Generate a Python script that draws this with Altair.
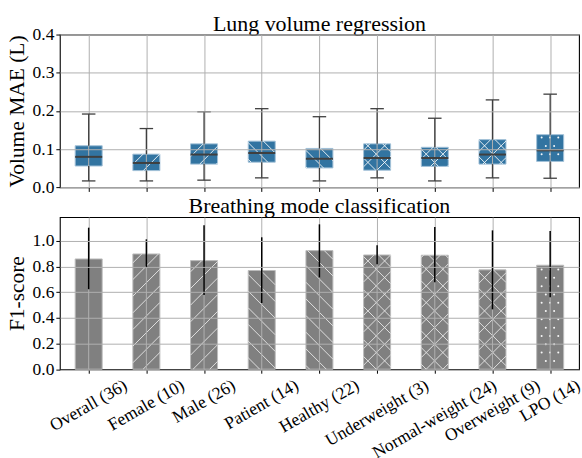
import math
import altair as alt
import numpy as np
import pandas as pd

# ---------------- data ----------------
categories = ["Overall (36)", "Female (10)", "Male (26)", "Patient (14)", "Healthy (22)",
              "Underweight (3)", "Normal-weight (24)", "Overweight (9)", "LPO (14)"]
hatches = ["", "/", "/", "\\", "\\", "x", "x", "x", "."]

mae_whisker_low = [0.017, 0.017, 0.019, 0.025, 0.017, 0.025, 0.017, 0.025, 0.024]
mae_q1 = [0.056, 0.044, 0.061, 0.066, 0.051, 0.045, 0.055, 0.061, 0.068]
mae_median = [0.080, 0.064, 0.086, 0.090, 0.075, 0.077, 0.077, 0.086, 0.097]
mae_q3 = [0.109, 0.087, 0.114, 0.121, 0.102, 0.114, 0.105, 0.125, 0.138]
mae_whisker_high = [0.192, 0.154, 0.198, 0.206, 0.185, 0.206, 0.181, 0.229, 0.244]

f1_mean = [0.860, 0.899, 0.847, 0.770, 0.925, 0.891, 0.889, 0.775, 0.811]
f1_low = [0.624, 0.793, 0.578, 0.516, 0.715, 0.819, 0.679, 0.467, 0.562]
f1_high = [1.104, 1.013, 1.122, 1.029, 1.130, 0.967, 1.109, 1.083, 1.078]

mae_ticks = [0.0, 0.1, 0.2, 0.3, 0.4]
f1_ticks = [0.0, 0.2, 0.4, 0.6, 0.8, 1.0]

titles = ["Lung volume regression", "Breathing mode classification"]
y_titles = ["Volume MAE (L)", "F1-score"]

# ---------------- layout / style ----------------
SERIF = "Liberation Serif"
W, H1, H2 = 520.6, 153.3, 152.6
N = len(categories)
HALF = 0.234
Y1MAX, Y2MAX = 0.4, 1.187
KX = W / N
K1 = H1 / Y1MAX
K2 = H2 / Y2MAX
SP = 16.7      # hatch line spacing (px)
DOT = 8.33     # dot hatch spacing (px)
BLUE = "#3274a1"
BOX_EDGE = "#a3c1d8"
BAR_GRAY = "#808080"
BAR_EDGE = "#bcbcbc"
GRID = "#b0b0b0"
WHISK = "#3f3f3f"
XFS = 17.5
ANG = 30
TFS = 22

df = pd.DataFrame({
    "pos": list(range(N)), "cat": categories, "hatch": hatches,
    "low": mae_whisker_low, "q1": mae_q1, "med": mae_median, "q3": mae_q3,
    "high": mae_whisker_high, "f1": f1_mean, "f1lo": f1_low, "f1hi": f1_high,
})
df["x0"] = df["pos"] - HALF
df["x1"] = df["pos"] + HALF
df["c0"] = df["pos"] - HALF / 2
df["c1"] = df["pos"] + HALF / 2


def hatch_parts(x0, x1, y0, y1, kind, ky):
    ua, ub = (x0 + 0.5) * KX, (x1 + 0.5) * KX
    va, vb = y0 * ky, y1 * ky
    tox = lambda u: u / KX - 0.5
    toy = lambda v: v / ky
    segs, dots = [], []
    if kind in ("/", "x"):
        for k in range(int(math.floor((va - ub) / SP)), int(math.ceil((vb - ua) / SP)) + 1):
            c = k * SP
            us, ue = max(ua, va - c), min(ub, vb - c)
            if ue - us > 0.8:
                segs.append({"xa": tox(us), "ya": toy(us + c), "xb": tox(ue), "yb": toy(ue + c)})
    if kind in ("\\", "x"):
        for k in range(int(math.floor((va + ua) / SP)), int(math.ceil((vb + ub) / SP)) + 1):
            c = k * SP
            us, ue = max(ua, c - vb), min(ub, c - va)
            if ue - us > 0.8:
                segs.append({"xa": tox(us), "ya": toy(c - us), "xb": tox(ue), "yb": toy(c - ue)})
    if kind == ".":
        r = 1.3
        for row in range(int(math.floor(va / DOT)), int(math.ceil(vb / DOT)) + 1):
            v = row * DOT
            if v < va + r or v > vb - r:
                continue
            off = DOT / 2 if row % 2 else 0.0
            for col in range(int(math.floor(ua / DOT)) - 1, int(math.ceil(ub / DOT)) + 1):
                u = col * DOT + off
                if ua + r <= u <= ub - r:
                    dots.append({"dx": tox(u), "dy": toy(v)})
    return segs, dots


def build_hatch(lo_col, hi_col, ky):
    segs, dots = [], []
    for _, r in df.iterrows():
        lo = r[lo_col] if lo_col else 0.0
        s, d = hatch_parts(r["x0"], r["x1"], lo, r[hi_col], r["hatch"], ky)
        segs += s
        dots += d
    return (pd.DataFrame(segs, columns=["xa", "ya", "xb", "yb"]),
            pd.DataFrame(dots, columns=["dx", "dy"]))


seg1, dot1 = build_hatch("q1", "q3", K1)
seg2, dot2 = build_hatch(None, "f1", K2)

# rotated tick labels: keep the top of every rotated label at the same height
TIMES_W = {" ": 250, "(": 333, ")": 333, "-": 333, "O": 722, "v": 500, "e": 444, "r": 333,
           "a": 444, "l": 278, "F": 556, "m": 778, "M": 889, "P": 556, "t": 278, "i": 278,
           "n": 500, "H": 722, "h": 500, "y": 500, "U": 722, "d": 500, "w": 722, "g": 500,
           "N": 722, "o": 500, "L": 611}
lab = df[["pos", "cat"]].copy()
sa, ca = math.sin(math.radians(ANG)), math.cos(math.radians(ANG))
lab_len = [sum(TIMES_W.get(ch, 500) for ch in s) / 1000 * XFS for s in categories]
lab["ly"] = [-(8.0 + (L * sa + XFS * 0.95 * ca) / 2) / K2 for L in lab_len]


def X(field):
    return alt.X(field, type="quantitative",
                 scale=alt.Scale(domain=[-0.5, N - 0.5], nice=False, zero=False),
                 axis=alt.Axis(values=list(range(N)), labels=False, title=None, grid=True,
                               ticks=True, tickSize=4, domain=False, zindex=0))


def Y1(field):
    return alt.Y(field, type="quantitative",
                 scale=alt.Scale(domain=[0, Y1MAX], nice=False, zero=False),
                 axis=alt.Axis(values=mae_ticks, format=".1f", title=y_titles[0], grid=True,
                               domain=False, tickSize=4, zindex=1))


def Y2(field):
    return alt.Y(field, type="quantitative",
                 scale=alt.Scale(domain=[0, Y2MAX], nice=False, zero=False),
                 axis=alt.Axis(values=f1_ticks, format=".1f", title=y_titles[1], grid=True,
                               domain=False, tickSize=4, zindex=1))


def panel_title(text):
    return alt.Chart(pd.DataFrame({"t": [text]})).mark_text(
        font=SERIF, fontSize=TFS, color="black", align="center", baseline="alphabetic"
    ).encode(x=alt.value(W / 2), y=alt.value(-3.7), text="t:N")


base = alt.Chart(df)

# ---------------- top: box plots ----------------
boxes = base.mark_bar(color=BLUE, stroke=BOX_EDGE, strokeWidth=1).encode(
    x=X("x0"), x2="x1", y=Y1("q1"), y2="q3")
hatch1 = alt.Chart(seg1).mark_rule(color="white", strokeWidth=1, opacity=0.85).encode(
    x=X("xa"), x2="xb", y=Y1("ya"), y2="yb")
dots1 = alt.Chart(dot1).mark_circle(color="white", size=4, opacity=0.95).encode(
    x=X("dx"), y=Y1("dy"))
vgrid1 = base.mark_rule(color=GRID, strokeWidth=1).encode(x=X("pos"), y=Y1("q1"), y2="q3")
wlow = base.mark_rule(color=WHISK, strokeWidth=1.3).encode(x=X("pos"), y=Y1("low"), y2="q1")
whigh = base.mark_rule(color=WHISK, strokeWidth=1.3).encode(x=X("pos"), y=Y1("q3"), y2="high")
caplo = base.mark_rule(color=WHISK, strokeWidth=1.3).encode(x=X("c0"), x2="c1", y=Y1("low"))
caphi = base.mark_rule(color=WHISK, strokeWidth=1.3).encode(x=X("c0"), x2="c1", y=Y1("high"))
median = base.mark_rule(color=WHISK, strokeWidth=2).encode(x=X("x0"), x2="x1", y=Y1("med"))

top = alt.layer(boxes, hatch1, dots1, vgrid1, wlow, whigh, caplo, caphi, median,
                panel_title(titles[0])).properties(width=W, height=H1)

# ---------------- bottom: bars ----------------
bars = base.mark_bar(color=BAR_GRAY, stroke=BAR_EDGE, strokeWidth=1).encode(
    x=X("x0"), x2="x1", y=Y2("f1"), y2=alt.datum(0))
hatch2 = alt.Chart(seg2).mark_rule(color="#e8e8e8", strokeWidth=1, opacity=0.9).encode(
    x=X("xa"), x2="xb", y=Y2("ya"), y2="yb")
dots2 = alt.Chart(dot2).mark_circle(color="white", size=4, opacity=0.95).encode(
    x=X("dx"), y=Y2("dy"))
vgrid2 = base.mark_rule(color=GRID, strokeWidth=1).encode(x=X("pos"), y=Y2("f1"), y2=alt.datum(0))
err = base.mark_rule(color="black", strokeWidth=1.5).encode(x=X("pos"), y=Y2("f1lo"), y2="f1hi")
labels = alt.Chart(lab).mark_text(angle=360 - ANG, align="center", baseline="middle",
                                  font=SERIF, fontSize=XFS, color="black").encode(
    x=X("pos"), y=Y2("ly"), text="cat:N")

bottom = alt.layer(bars, hatch2, dots2, vgrid2, err, labels,
                   panel_title(titles[1])).properties(width=W, height=H2)

chart = alt.vconcat(top, bottom, spacing=-3).properties(
    padding={"left": 5, "right": -2, "top": 11, "bottom": -4}
).configure_view(stroke="black", strokeWidth=1.1).configure_axis(
    labelFont=SERIF, labelFontSize=17.5, labelColor="black", labelPadding=2,
    titleFont=SERIF, titleFontSize=21.5, titleFontWeight="normal", titleColor="black",
    titlePadding=4, tickColor="black", tickWidth=1, gridColor=GRID, gridWidth=1,
)

chart.save("out.html", embed_options={"renderer": "svg", "actions": False})
